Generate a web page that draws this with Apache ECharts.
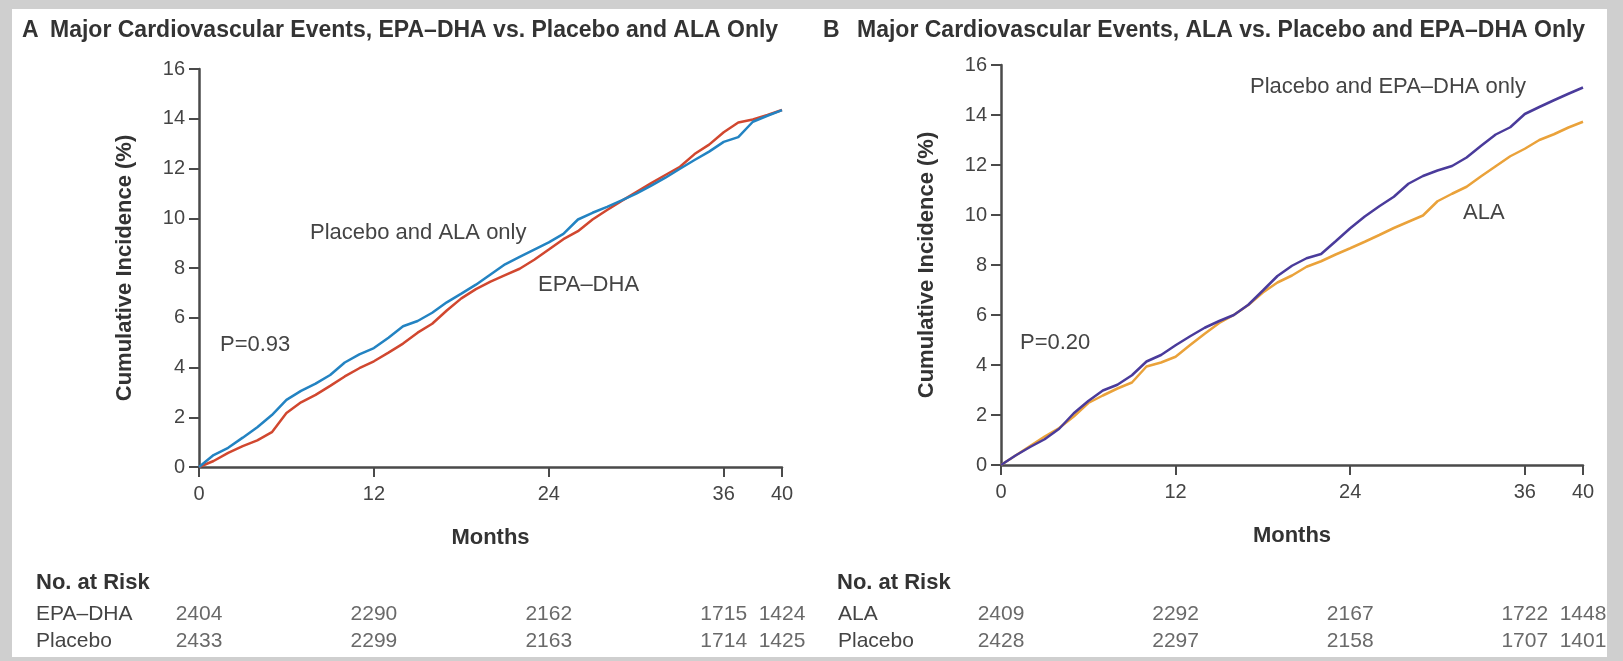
<!DOCTYPE html>
<html>
<head>
<meta charset="utf-8">
<script src="https://cdn.jsdelivr.net/npm/echarts@6/dist/echarts.min.js"></script>
<style>
  html, body { margin: 0; padding: 0; background: #cfcfcf; }
  #chart { width: 1623px; height: 661px; }
</style>
</head>
<body>
<div id="chart"></div>
<script>
// cumulative incidence (%)
const months = [0, 1, 2, 3, 4, 5, 6, 7, 8, 9, 10, 11, 12, 13, 14, 15, 16, 17, 18, 19, 20,
  21, 22, 23, 24, 25, 26, 27, 28, 29, 30, 31, 32, 33, 34, 35, 36, 37, 38, 39, 40];

// panel A
const epaDha = [0, 0.24, 0.57, 0.84, 1.07, 1.4, 2.17, 2.6, 2.9, 3.26, 3.64, 3.97, 4.25, 4.6, 4.96,
  5.4, 5.76, 6.29, 6.78, 7.15, 7.45, 7.71, 7.97, 8.33, 8.74, 9.16, 9.48, 9.95, 10.33, 10.7, 11.05,
  11.4, 11.74, 12.07, 12.58, 12.96, 13.46, 13.85, 13.97, 14.15, 14.35];
const placeboAla = [0, 0.48, 0.77, 1.18, 1.6, 2.09, 2.7, 3.06, 3.35, 3.7, 4.2, 4.53, 4.78, 5.2, 5.66,
  5.87, 6.2, 6.62, 6.97, 7.33, 7.74, 8.15, 8.45, 8.74, 9.03, 9.37, 9.95, 10.22, 10.46, 10.72, 10.99,
  11.3, 11.63, 11.99, 12.34, 12.68, 13.07, 13.26, 13.88, 14.12, 14.35];

// panel B
const ala = [0, 0.38, 0.76, 1.14, 1.48, 1.94, 2.48, 2.78, 3.06, 3.3, 3.94, 4.1, 4.33, 4.8, 5.25,
  5.68, 6.0, 6.4, 6.9, 7.3, 7.58, 7.93, 8.15, 8.42, 8.67, 8.93, 9.2, 9.48, 9.73, 9.98, 10.55,
  10.85, 11.13, 11.55, 11.95, 12.35, 12.65, 13.0, 13.23, 13.5, 13.73];
const placeboEpa = [0, 0.38, 0.72, 1.03, 1.45, 2.07, 2.56, 2.98, 3.21, 3.59, 4.14, 4.4, 4.79, 5.15, 5.49,
  5.76, 6.0, 6.41, 6.98, 7.56, 7.97, 8.27, 8.44, 8.95, 9.47, 9.94, 10.35, 10.73, 11.25, 11.56, 11.78,
  11.96, 12.3, 12.77, 13.22, 13.51, 14.04, 14.32, 14.59, 14.85, 15.1];

const monthTicks = [0, 12, 24, 36, 40];

// numbers at risk
const riskMonths = [0, 12, 24, 36, 40];
const riskEpaDha = [2404, 2290, 2162, 1715, 1424];
const riskPlaceboA = [2433, 2299, 2163, 1714, 1425];
const riskAla = [2409, 2292, 2167, 1722, 1448];
const riskPlaceboB = [2428, 2297, 2158, 1707, 1401];

const FONT = 'Liberation Sans';
const AXIS = '#4a4a4a';
const TEXT = '#444';

const chart = echarts.init(document.getElementById('chart'));

const pairs = (xs, ys) => xs.map((x, i) => [x, ys[i]]);
const riskRow = (row, counts) => riskMonths.map((m, i) => [m, row, counts[i]]);

function plotX(gridIndex) {
  return {
    gridIndex, type: 'value', min: 0, max: 40,
    name: 'Months', nameLocation: 'middle', nameGap: 60,
    nameTextStyle: { fontFamily: FONT, fontSize: 22, fontWeight: 'bold', color: '#333' },
    axisLine: { lineStyle: { color: AXIS, width: 2.5 } },
    axisTick: { customValues: monthTicks, length: 10, lineStyle: { color: AXIS, width: 2 } },
    axisLabel: { customValues: monthTicks, margin: 17, fontFamily: FONT, fontSize: 20, color: TEXT },
    splitLine: { show: false }
  };
}

function plotY(gridIndex) {
  return {
    gridIndex, type: 'value', min: 0, max: 16, interval: 2,
    name: 'Cumulative Incidence (%)', nameLocation: 'middle', nameGap: 63, nameRotate: 90,
    nameTextStyle: { fontFamily: FONT, fontSize: 22, fontWeight: 'bold', color: '#333' },
    axisLine: { show: true, lineStyle: { color: AXIS, width: 2.5 } },
    axisTick: { show: true, length: 10, lineStyle: { color: AXIS, width: 2 } },
    axisLabel: { margin: 14, fontFamily: FONT, fontSize: 20, color: TEXT },
    splitLine: { show: false }
  };
}

function riskX(gridIndex) {
  return { gridIndex, type: 'value', min: 0, max: 40, show: false };
}

function riskY(gridIndex, rows) {
  return {
    gridIndex, type: 'category', data: rows, inverse: true,
    axisLine: { show: false }, axisTick: { show: false },
    axisLabel: { interval: 0, align: 'left', margin: 163, fontFamily: FONT, fontSize: 21, color: TEXT }
  };
}

function curve(name, data, color, idx) {
  return {
    name, type: 'line', xAxisIndex: idx, yAxisIndex: idx,
    data, showSymbol: false, smooth: false,
    lineStyle: { color, width: 2.5 }
  };
}

function risk(data, idx) {
  return {
    type: 'scatter', xAxisIndex: idx, yAxisIndex: idx, data,
    symbolSize: 2, itemStyle: { color: 'rgba(0,0,0,0)' },
    label: {
      show: true, position: 'inside', formatter: p => String(p.value[2]),
      fontFamily: FONT, fontSize: 21, color: TEXT
    }
  };
}

function txt(x, y, text, size, weight, color) {
  return {
    type: 'text', x, y,
    style: { text, fontFamily: FONT, fontSize: size, fontWeight: weight || 'normal',
      fill: color || TEXT, verticalAlign: 'middle' }
  };
}

chart.setOption({
  animation: false,
  backgroundColor: '#cfcfcf',
  graphic: [
    { type: 'rect', shape: { x: 12, y: 9, width: 1595, height: 648 }, style: { fill: '#fff' }, z: -10 },
    txt(22, 31, 'A', 23, 'bold', '#333'),
    txt(50, 31, 'Major Cardiovascular Events, EPA–DHA vs. Placebo and ALA Only', 23, 'bold', '#333'),
    txt(823, 31, 'B', 23, 'bold', '#333'),
    txt(857, 31, 'Major Cardiovascular Events, ALA vs. Placebo and EPA–DHA Only', 23, 'bold', '#333'),
    txt(310, 233, 'Placebo and ALA only', 22),
    txt(538, 285, 'EPA–DHA', 22),
    txt(220, 345, 'P=0.93', 22),
    txt(1250, 87, 'Placebo and EPA–DHA only', 22),
    txt(1463, 213, 'ALA', 22),
    txt(1020, 343, 'P=0.20', 22),
    txt(36, 583, 'No. at Risk', 22, 'bold', '#333'),
    txt(837, 583, 'No. at Risk', 22, 'bold', '#333')
  ],
  grid: [
    { left: 199, top: 69, width: 583, height: 398 },
    { left: 1001, top: 65, width: 582, height: 400 },
    { left: 199, top: 601, width: 583, height: 54 },
    { left: 1001, top: 601, width: 582, height: 54 }
  ],
  xAxis: [plotX(0), plotX(1), riskX(2), riskX(3)],
  yAxis: [plotY(0), plotY(1), riskY(2, ['EPA–DHA', 'Placebo']), riskY(3, ['ALA', 'Placebo'])],
  series: [
    curve('EPA–DHA', pairs(months, epaDha), '#d1472f', 0),
    curve('Placebo and ALA only', pairs(months, placeboAla), '#2383c2', 0),
    curve('ALA', pairs(months, ala), '#eaa23a', 1),
    curve('Placebo and EPA–DHA only', pairs(months, placeboEpa), '#4a3b9b', 1),
    risk(riskRow('EPA–DHA', riskEpaDha), 2),
    risk(riskRow('Placebo', riskPlaceboA), 2),
    risk(riskRow('ALA', riskAla), 3),
    risk(riskRow('Placebo', riskPlaceboB), 3)
  ]
});

window.addEventListener('resize', () => chart.resize());
</script>
</body>
</html>
